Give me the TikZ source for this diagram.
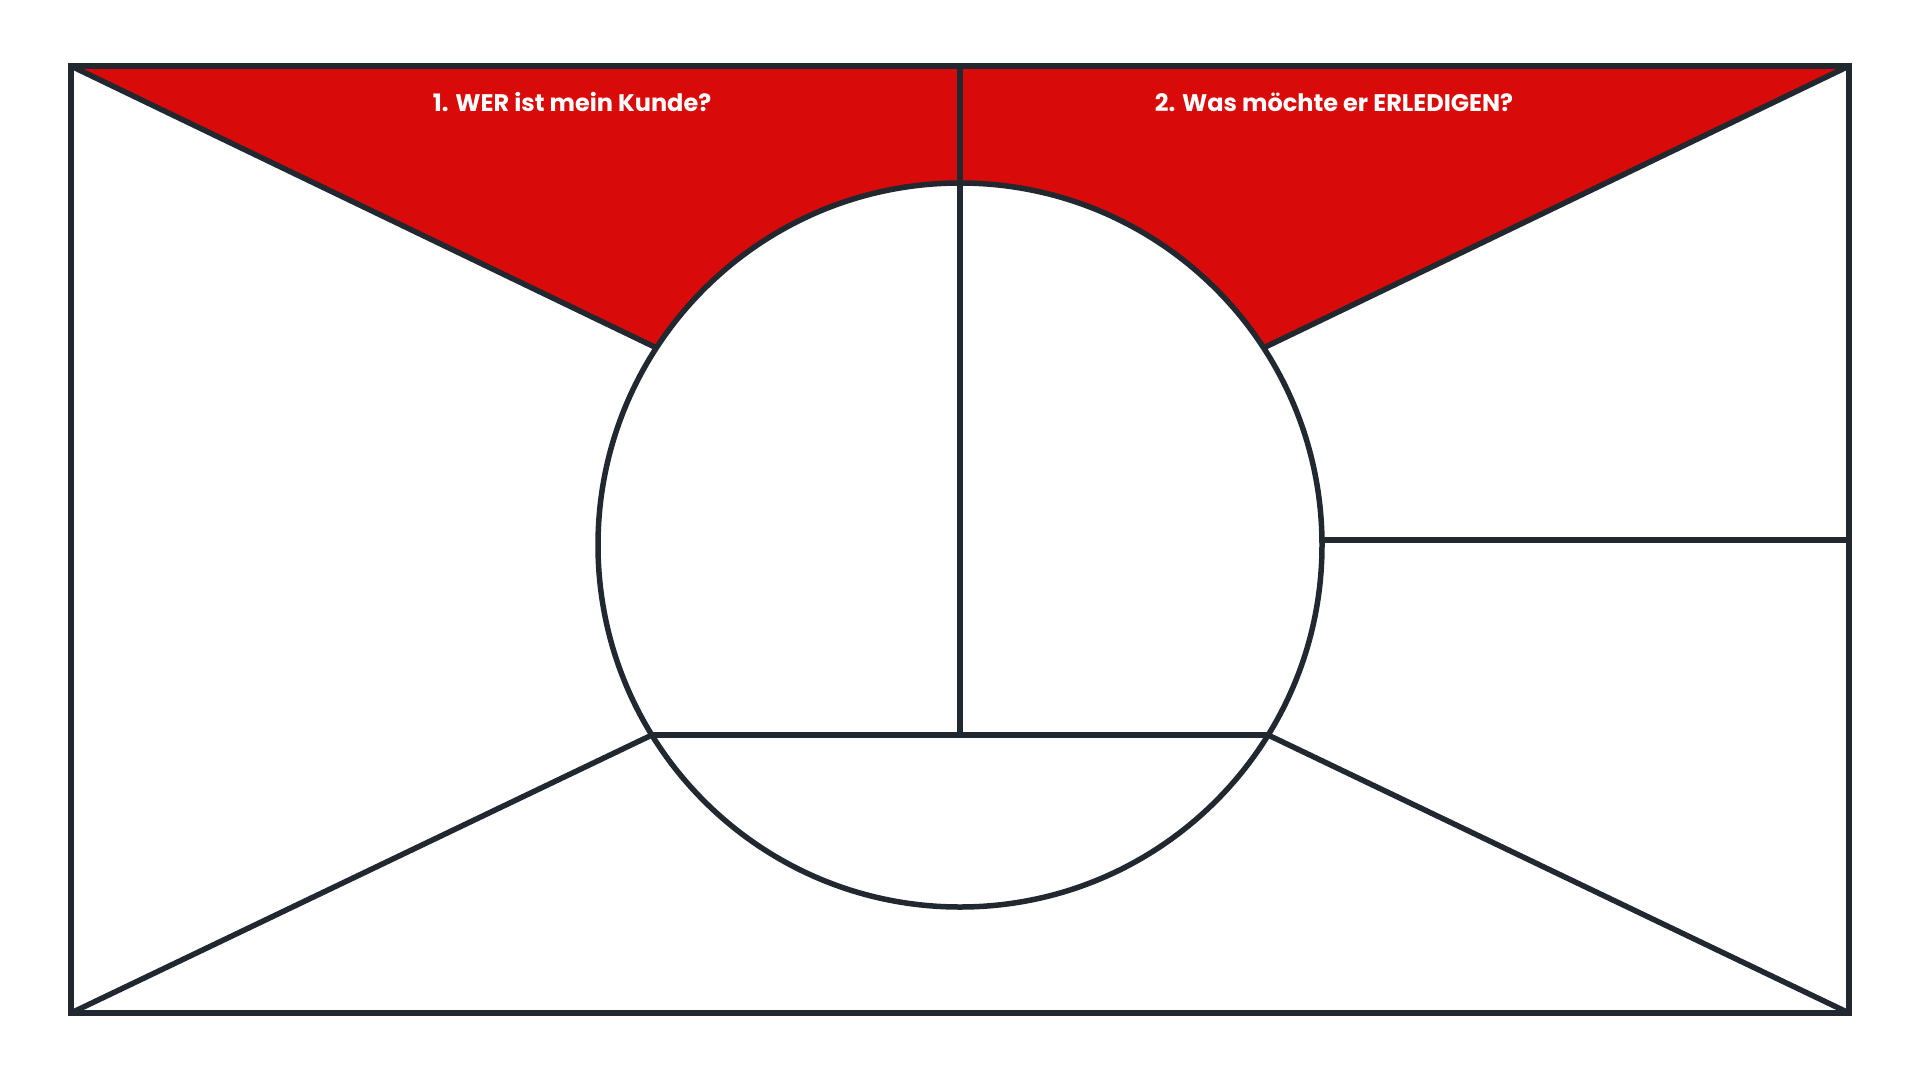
\documentclass[tikz,border=0pt]{standalone}
\usepackage{fontspec}
\setmainfont{Poppins}
\usetikzlibrary{calc}
\definecolor{linecol}{HTML}{22282F}
\definecolor{redfill}{HTML}{D80A0A}
\begin{document}
\begin{tikzpicture}[x=1pt,y=-1pt,
  frame/.style={draw=linecol,line width=6pt,line join=miter},
  divider/.style={draw=linecol,line width=5.5pt},
  heading/.style={text=white,font=\fontsize{24}{28}\selectfont\bfseries,inner sep=0pt,anchor=base}]
\useasboundingbox (0,0) rectangle (1920,1080);
\fill[white] (0,0) rectangle (1920,1080);
% key points
\coordinate (TL) at (71,66);
\coordinate (TR) at (1849,66);
\coordinate (BL) at (71,1013);
\coordinate (BR) at (1849,1013);
\coordinate (C) at (960,545);
\coordinate (UL) at ($(C)+(-147:362)$);
\coordinate (UR) at ($(C)+(-33:362)$);
\coordinate (LL) at ($(C)+(148.34:362)$);
\coordinate (LR) at ($(C)+(31.66:362)$);
\coordinate (TOPC) at (960,66);
\coordinate (CR) at (1322,540);
\coordinate (RR) at (1849,540);
\coordinate (CB) at (960,735);
% red top region
\fill[redfill] (TL) -- (TR) -- (UR) arc[start angle=-33,end angle=-147,radius=362] -- (UL) -- cycle;
% circle
\draw[divider] (C) circle[radius=362];
% diagonals
\draw[divider] (TL) -- (UL);
\draw[divider] (TR) -- (UR);
\draw[divider] (BL) -- (LL);
\draw[divider] (BR) -- (LR);
% chord and vertical
\draw[divider] (LL) -- (LR);
\draw[divider] (TOPC) -- (CB);
\draw[divider] (CR) -- (RR);
% frame
\draw[frame] (TL) rectangle (BR);
% headings
\node[heading] (h1) at (572,111) {1. WER ist mein Kunde?};
\node[heading] (h2) at (1334,111) {2. Was möchte er ERLEDIGEN?};
\end{tikzpicture}
\end{document}
